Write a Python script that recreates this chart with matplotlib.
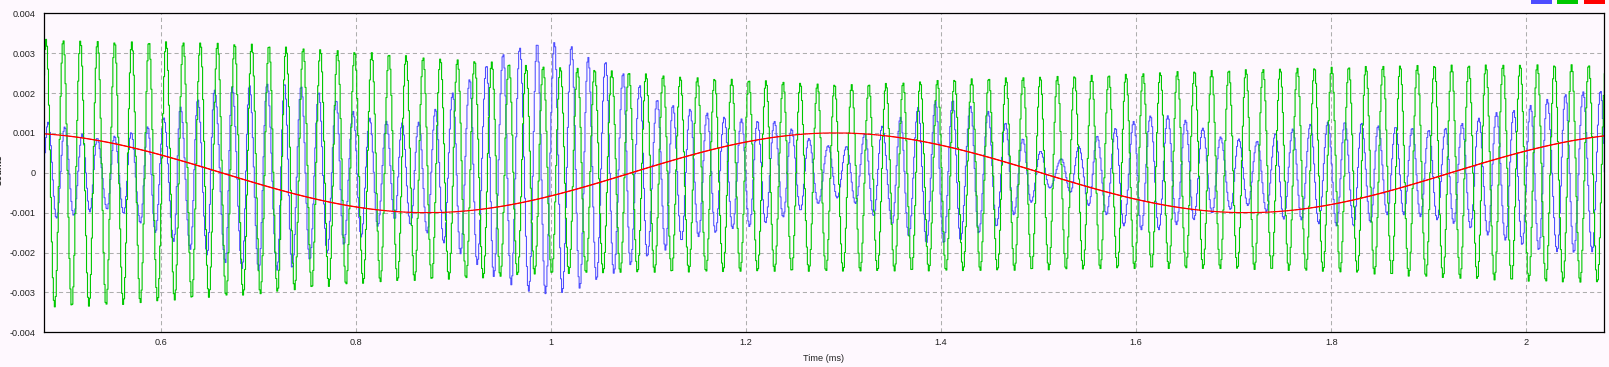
import numpy as np
import matplotlib
matplotlib.use("Agg")
import matplotlib.pyplot as plt
from matplotlib.patches import Rectangle

# ---------------- data ----------------
x_limits_ms = (0.48, 2.08)
y_limits = (-0.004, 0.004)
x_ticks = [0.6, 0.8, 1.0, 1.2, 1.4, 1.6, 1.8, 2.0]
x_tick_labels = ["0.6", "0.8", "1", "1.2", "1.4", "1.6", "1.8", "2"]
y_ticks = [-0.004, -0.003, -0.002, -0.001, 0.0, 0.001, 0.002, 0.003, 0.004]
y_tick_labels = ["-0.004", "-0.003", "-0.002", "-0.001", "0", "0.001", "0.002", "0.003", "0.004"]
x_label = "Time (ms)"
y_label = "Counts"

sample_step_ms = 0.001

# blue trace: successive peaks / troughs (time in ms, value)
blue_ext_t = [
    0.4757, 0.4842, 0.4927, 0.5012, 0.5104, 0.5191, 0.5269, 0.5344, 0.5447, 0.5522,
    0.5617, 0.5693, 0.5788, 0.5863, 0.5942, 0.6027, 0.6130, 0.6198, 0.6301, 0.6376,
    0.6472, 0.6547, 0.6660, 0.6728, 0.6831, 0.6906, 0.7001, 0.7087, 0.7190, 0.7265,
    0.7344, 0.7436, 0.7524, 0.7616, 0.7702, 0.7795, 0.7873, 0.7969, 0.8051, 0.8139,
    0.8221, 0.8310, 0.8395, 0.8471, 0.8556, 0.8641, 0.8728, 0.8813, 0.8898, 0.8990,
    0.9069, 0.9164, 0.9240, 0.9336, 0.9410, 0.9507, 0.9589, 0.9677, 0.9769, 0.9855,
    0.9940, 1.0033, 1.0112, 1.0207, 1.0292, 1.0378, 1.0463, 1.0556, 1.0641, 1.0737,
    1.0812, 1.0907, 1.0983, 1.1086, 1.1171, 1.1246, 1.1335, 1.1423, 1.1509, 1.1598,
    1.1683, 1.1773, 1.1858, 1.1950, 1.2032, 1.2114, 1.2196, 1.2288, 1.2377, 1.2462,
    1.2555, 1.2640, 1.2736, 1.2839, 1.2931, 1.3026, 1.3119, 1.3214, 1.3306, 1.3392,
    1.3495, 1.3580, 1.3665, 1.3761, 1.3846, 1.3939, 1.4024, 1.4116, 1.4195, 1.4298,
    1.4383, 1.4479, 1.4564, 1.4656, 1.4741, 1.4834, 1.4920, 1.5015, 1.5110, 1.5230,
    1.5323, 1.5408, 1.5510, 1.5596, 1.5692, 1.5784, 1.5869, 1.5972, 1.6048, 1.6143,
    1.6228, 1.6320, 1.6409, 1.6502, 1.6587, 1.6679, 1.6775, 1.6861, 1.6963, 1.7048,
    1.7140, 1.7237, 1.7332, 1.7424, 1.7509, 1.7602, 1.7691, 1.7783, 1.7868, 1.7961,
    1.8050, 1.8135, 1.8227, 1.8306, 1.8398, 1.8477, 1.8570, 1.8655, 1.8740, 1.8826,
    1.8911, 1.8996, 1.9082, 1.9167, 1.9252, 1.9338, 1.9424, 1.9509, 1.9601, 1.9690,
    1.9782, 1.9867, 1.9954, 2.0039, 2.0124, 2.0210, 2.0312, 2.0397, 2.0483, 2.0579,
    2.0671, 2.0756, 2.0844,
]
blue_ext_v = [
    -0.00120, 0.00127, -0.00114, 0.00115, -0.00107, 0.00097, -0.00098, 0.00087, -0.00091, 0.00092,
    -0.00102, 0.00101, -0.00126, 0.00116, -0.00150, 0.00138, -0.00172, 0.00165, -0.00192, 0.00184,
    -0.00206, 0.00208, -0.00225, 0.00216, -0.00240, 0.00220, -0.00244, 0.00223, -0.00244, 0.00225,
    -0.00239, 0.00217, -0.00218, 0.00202, -0.00201, 0.00182, -0.00180, 0.00154, -0.00161, 0.00137,
    -0.00134, 0.00129, -0.00116, 0.00125, -0.00130, 0.00127, -0.00151, 0.00160, -0.00176, 0.00200,
    -0.00203, 0.00235, -0.00230, 0.00270, -0.00260, 0.00298, -0.00281, 0.00314, -0.00297, 0.00325,
    -0.00303, 0.00328, -0.00301, 0.00318, -0.00290, 0.00290, -0.00269, 0.00279, -0.00252, 0.00250,
    -0.00231, 0.00220, -0.00210, 0.00183, -0.00194, 0.00170, -0.00170, 0.00160, -0.00160, 0.00150,
    -0.00150, 0.00140, -0.00140, 0.00135, -0.00135, 0.00130, -0.00126, 0.00129, -0.00111, 0.00110,
    -0.00094, 0.00086, -0.00077, 0.00068, -0.00063, 0.00066, -0.00077, 0.00098, -0.00108, 0.00117,
    -0.00128, 0.00139, -0.00159, 0.00164, -0.00176, 0.00179, -0.00176, 0.00182, -0.00169, 0.00167,
    -0.00151, 0.00154, -0.00134, 0.00125, -0.00105, 0.00085, -0.00074, 0.00054, -0.00038, 0.00035,
    -0.00049, 0.00066, -0.00082, 0.00092, -0.00105, 0.00112, -0.00133, 0.00129, -0.00143, 0.00143,
    -0.00143, 0.00143, -0.00130, 0.00132, -0.00118, 0.00112, -0.00101, 0.00090, -0.00092, 0.00085,
    -0.00082, 0.00079, -0.00097, 0.00098, -0.00116, 0.00110, -0.00118, 0.00122, -0.00128, 0.00127,
    -0.00133, 0.00127, -0.00134, 0.00125, -0.00124, 0.00118, -0.00105, 0.00115, -0.00105, 0.00112,
    -0.00110, 0.00107, -0.00118, 0.00112, -0.00127, 0.00124, -0.00139, 0.00137, -0.00156, 0.00151,
    -0.00169, 0.00157, -0.00181, 0.00169, -0.00194, 0.00184, -0.00198, 0.00197, -0.00200, 0.00203,
    -0.00198, 0.00206, -0.00200,
]

# green trace: carrier timing and envelope (upper / lower extremes)
green_first_peak_ms = 0.4821
green_period_ms = 0.017572
green_env_t = [0.48, 0.52, 0.56, 0.60, 0.65, 0.70, 0.73, 0.78, 0.83, 0.88, 0.93, 0.98,
               1.03, 1.08, 1.13, 1.18, 1.22, 1.27, 1.31, 1.36, 1.41, 1.46, 1.52, 1.58,
               1.64, 1.70, 1.76, 1.82, 1.87, 1.92, 1.98, 2.03, 2.09]
green_upper = [0.00335, 0.00331, 0.00328, 0.00329, 0.00326, 0.00322, 0.00315, 0.00307,
               0.00299, 0.00287, 0.00280, 0.00268, 0.00262, 0.00252, 0.00241, 0.00235,
               0.00231, 0.00223, 0.00221, 0.00226, 0.00234, 0.00238, 0.00242, 0.00246,
               0.00254, 0.00258, 0.00262, 0.00266, 0.00269, 0.00270, 0.00271, 0.00271, 0.00271]
green_lower = [-0.00337, -0.00335, -0.00331, -0.00322, -0.00312, -0.00305, -0.00295, -0.00283,
               -0.00273, -0.00268, -0.00264, -0.00254, -0.00252, -0.00250, -0.00249, -0.00248,
               -0.00247, -0.00247, -0.00247, -0.00246, -0.00246, -0.00245, -0.00243, -0.00240,
               -0.00240, -0.00241, -0.00245, -0.00250, -0.00258, -0.00264, -0.00270, -0.00274, -0.00276]

# red trace: successive peaks / troughs
red_ext_t = [0.4513, 0.8727, 1.2913, 1.7127, 2.1313]
red_ext_v = [0.0010, -0.0010, 0.0010, -0.0010, 0.0010]

colors = {"blue": "#4D4DFF", "green": "#00C800", "red": "#FF0000"}
bg_color = "#FEF8FE"
grid_color = "#AEAEAE"

# ---------------- helpers ----------------
def between_extrema(t, et, ev):
    et = np.asarray(et)
    ev = np.asarray(ev)
    i = np.clip(np.searchsorted(et, t, side="right") - 1, 0, len(et) - 2)
    s = (t - et[i]) / (et[i + 1] - et[i])
    return (ev[i] + ev[i + 1]) / 2 + (ev[i] - ev[i + 1]) / 2 * np.cos(np.pi * s)

t = np.arange(0.476, 2.084, sample_step_ms)
blue = between_extrema(t, blue_ext_t, blue_ext_v)
up = np.interp(t, green_env_t, green_upper)
lo = np.interp(t, green_env_t, green_lower)
green = (up + lo) / 2 + (up - lo) / 2 * np.cos(2 * np.pi * (t - green_first_peak_ms) / green_period_ms)
red = between_extrema(t, red_ext_t, red_ext_v)

# ---------------- figure ----------------
W, H = 1609, 367
plt.rcParams["font.family"] = ["Liberation Sans", "DejaVu Sans"]
plt.rcParams["lines.scale_dashes"] = False
fig = plt.figure(figsize=(W / 100, H / 100), dpi=100)
fig.patch.set_facecolor(bg_color)

left_px, right_px, top_px, bottom_px = 43.6, 1604.3, 13.3, 332.3
ax = fig.add_axes([left_px / W, (H - bottom_px) / H, (right_px - left_px) / W, (bottom_px - top_px) / H])
ax.set_facecolor(bg_color)

ax.plot(t, blue, color=colors["blue"], lw=0.75, drawstyle="steps-post", zorder=3)
ax.plot(t, green, color=colors["green"], lw=0.8, drawstyle="steps-post", zorder=4)
ax.plot(t, red, color=colors["red"], lw=0.85, drawstyle="steps-post", zorder=5)

ax.set_xlim(*x_limits_ms)
ax.set_ylim(*y_limits)
ax.set_xticks(x_ticks)
ax.set_xticklabels(x_tick_labels)
ax.set_yticks(y_ticks)
ax.set_yticklabels(y_tick_labels)
ax.tick_params(axis="both", length=0, labelsize=6.6, colors="#222222")
ax.tick_params(axis="x", pad=4.3)
ax.tick_params(axis="y", pad=5.5)
ax.grid(True, color=grid_color, lw=0.75, linestyle=(0, (3.0, 2.2)), zorder=1)
for sp in ax.spines.values():
    sp.set_color("black")
    sp.set_linewidth(0.9)
    sp.set_zorder(6)

ax.set_xlabel(x_label, fontsize=6.6, labelpad=5, color="#222222")
fig.text(3.5 / W, (H - 170) / H, y_label, rotation=90, ha="right", va="center",
         fontsize=6.6, fontweight="bold", color="#222222")

# legend keys (clipped at the top edge, as in the reference)
for x0, key in [(1531, "blue"), (1557, "green"), (1584, "red")]:
    fig.add_artist(Rectangle((x0 / W, (H - 4) / H), 21 / W, 8 / H, transform=fig.transFigure,
                             facecolor=colors[key], edgecolor="none"))

fig.savefig("out.png", dpi=100, facecolor=bg_color)
